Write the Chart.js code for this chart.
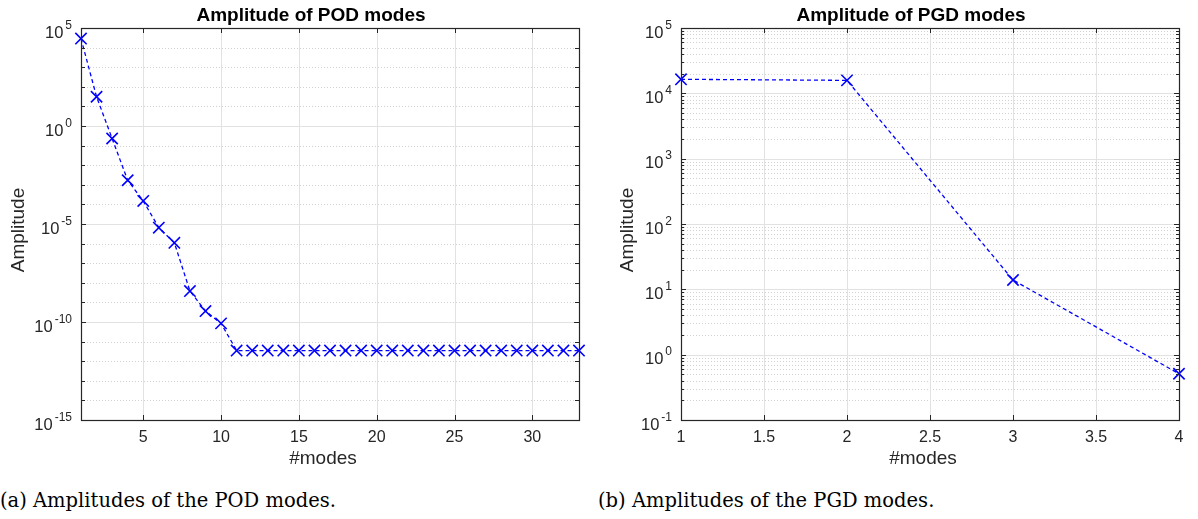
<!DOCTYPE html>
<html>
<head>
<meta charset="utf-8">
<title>Amplitudes of the POD and PGD modes</title>
<script src="https://cdn.jsdelivr.net/npm/chart.js@4"></script>
<style>
    html, body { margin: 0; padding: 0; background: #fff; }
    body { width: 1198px; height: 519px; position: relative; overflow: hidden; }
    canvas { position: absolute; top: 0; }
    #podChart { left: 0; }
    #pgdChart { left: 600px; }
    .caption {
        position: absolute;
        top: 489px;
        font-family: "DejaVu Serif", "Liberation Serif", serif;
        font-size: 19.5px;
        color: #000;
        white-space: nowrap;
    }
</style>
</head>
<body>
<canvas id="podChart" width="600" height="470"></canvas>
<canvas id="pgdChart" width="598" height="470"></canvas>
<div class="caption" style="left:0px">(a) Amplitudes of the POD modes.</div>
<div class="caption" style="left:598px">(b) Amplitudes of the PGD modes.</div>

<script>
// POD modes (left panel)
const podModes = [1, 2, 3, 4, 5, 6, 7, 8, 9, 10, 11, 12, 13, 14, 15, 16, 17,
    18, 19, 20, 21, 22, 23, 24, 25, 26, 27, 28, 29, 30, 31, 32, 33];
const podAmplitude = [2.9e4, 31, 0.23, 1.7e-3, 1.5e-4, 6.5e-6, 1.1e-6, 3.8e-9, 3.6e-10, 8.5e-11,
    3.5e-12, 3.5e-12, 3.5e-12, 3.5e-12, 3.5e-12, 3.5e-12, 3.5e-12, 3.5e-12, 3.5e-12, 3.5e-12,
    3.5e-12, 3.5e-12, 3.5e-12, 3.5e-12, 3.5e-12, 3.5e-12, 3.5e-12, 3.5e-12, 3.5e-12, 3.5e-12,
    3.5e-12, 3.5e-12, 3.5e-12];
const podXTicks = [5, 10, 15, 20, 25, 30];
const podYExponents = [-15, -10, -5, 0, 5];

// PGD modes (right panel)
const pgdModes = [1, 2, 3, 4];
const pgdAmplitude = [1.64e4, 1.58e4, 13.9, 0.51];
const pgdXTicks = [1, 1.5, 2, 2.5, 3, 3.5, 4];
const pgdYExponents = [-1, 0, 1, 2, 3, 4, 5];

const AXIS_COLOR = '#262626';
const FONT = '"Liberation Sans", Arial, Helvetica, sans-serif';

// MATLAB-like axes: grid, box, inward ticks, 10^n labels
function matlabAxes(cfg) {
    function hLine(ctx, x1, x2, y) {
        ctx.beginPath(); ctx.moveTo(x1, y); ctx.lineTo(x2, y); ctx.stroke();
    }
    function vLine(ctx, x, y1, y2) {
        ctx.beginPath(); ctx.moveTo(x, y1); ctx.lineTo(x, y2); ctx.stroke();
    }
    return {
        id: 'matlabAxes',
        beforeDatasetsDraw(chart) {
            const { ctx, chartArea: a, scales: { x, y } } = chart;
            ctx.save();
            ctx.lineWidth = 1;

            // minor grid (dotted)
            ctx.strokeStyle = '#d2d2d2';
            ctx.setLineDash([1, 2]);
            cfg.yMinor.forEach(v => {
                const py = Math.round(y.getPixelForValue(v)) + 0.5;
                hLine(ctx, a.left, a.right, py);
            });

            // major grid (solid)
            ctx.setLineDash([]);
            ctx.strokeStyle = '#e2e2e2';
            cfg.yExponents.forEach(e => {
                const py = Math.round(y.getPixelForValue(Math.pow(10, e))) + 0.5;
                hLine(ctx, a.left, a.right, py);
            });
            cfg.xTicks.forEach(v => {
                const px = Math.round(x.getPixelForValue(v)) + 0.5;
                vLine(ctx, px, a.top, a.bottom);
            });
            ctx.restore();
        },
        afterDraw(chart) {
            const { ctx, chartArea: a, scales: { x, y } } = chart;
            const cx = (a.left + a.right) / 2;
            ctx.save();

            // box
            ctx.strokeStyle = AXIS_COLOR;
            ctx.lineWidth = 1.2;
            ctx.strokeRect(Math.round(a.left) + 0.5, Math.round(a.top) + 0.5,
                Math.round(a.right - a.left), Math.round(a.bottom - a.top));

            // ticks
            ctx.lineWidth = 1;
            cfg.xTicks.forEach(v => {
                const px = Math.round(x.getPixelForValue(v)) + 0.5;
                vLine(ctx, px, a.bottom, a.bottom - 5);
                vLine(ctx, px, a.top, a.top + 5);
            });
            cfg.yExponents.forEach(e => {
                const py = Math.round(y.getPixelForValue(Math.pow(10, e))) + 0.5;
                hLine(ctx, a.left, a.left + 5, py);
                hLine(ctx, a.right, a.right - 5, py);
            });
            cfg.yMinor.forEach(v => {
                const py = Math.round(y.getPixelForValue(v)) + 0.5;
                hLine(ctx, a.left, a.left + cfg.minorTick, py);
                hLine(ctx, a.right, a.right - cfg.minorTick, py);
            });

            // x tick labels
            ctx.fillStyle = AXIS_COLOR;
            ctx.font = '16px ' + FONT;
            ctx.textAlign = 'center';
            ctx.textBaseline = 'alphabetic';
            cfg.xTicks.forEach(v => {
                ctx.fillText(String(v), x.getPixelForValue(v), a.bottom + 22);
            });

            // y tick labels as 10 with superscript exponent
            ctx.textAlign = 'left';
            cfg.yExponents.forEach(e => {
                const py = y.getPixelForValue(Math.pow(10, e));
                const exp = String(e);
                ctx.font = '12px ' + FONT;
                const wExp = ctx.measureText(exp).width;
                ctx.font = '16.5px ' + FONT;
                const wBase = ctx.measureText('10').width;
                const right = a.left - 9;
                ctx.fillText('10', right - wExp - 2 - wBase, py + 9.5);
                ctx.font = '12px ' + FONT;
                ctx.fillText(exp, right - wExp, py + 0.5);
            });

            // axis labels
            ctx.font = '19px ' + FONT;
            ctx.textAlign = 'center';
            ctx.fillText('#modes', cx - 7, a.bottom + 44);
            ctx.save();
            ctx.translate(cfg.yLabelX, (a.top + a.bottom) / 2 + 6);
            ctx.rotate(-Math.PI / 2);
            ctx.textBaseline = 'middle';
            ctx.fillText('Amplitude', 0, 0);
            ctx.restore();

            // title
            ctx.fillStyle = '#000';
            ctx.font = 'bold 19px ' + FONT;
            ctx.textAlign = 'center';
            ctx.fillText(cfg.title, cx - 19, 21);
            ctx.restore();
        }
    };
}

function minorDecades(exponents, perDecade) {
    // dotted grid values between the labelled decades
    const out = [];
    const lo = exponents[0], hi = exponents[exponents.length - 1];
    for (let e = lo; e < hi; e++) {
        if (perDecade) {
            for (let m = 2; m <= 9; m++) out.push(m * Math.pow(10, e));
        } else if (!exponents.includes(e)) {
            out.push(Math.pow(10, e));
        }
    }
    return out;
}

function makeChart(canvasId, xs, ys, xMin, xMax, exps, opts) {
    const ctx = document.getElementById(canvasId).getContext('2d');
    return new Chart(ctx, {
        type: 'line',
        data: {
            datasets: [{
                data: xs.map((v, i) => ({ x: v, y: ys[i] })),
                borderColor: '#0000ff',
                borderWidth: 1.3,
                borderDash: [4, 3],
                pointStyle: 'crossRot',
                pointRadius: 8,
                pointBorderColor: '#0000ff',
                pointBorderWidth: 1.6,
                pointHoverRadius: 8,
                tension: 0,
                fill: false,
                clip: false
            }]
        },
        options: {
            responsive: false,
            animation: false,
            events: [],
            layout: { padding: { left: 81, right: opts.padRight, top: 28, bottom: 50 } },
            plugins: {
                legend: { display: false },
                tooltip: { enabled: false },
                title: { display: false }
            },
            scales: {
                x: { type: 'linear', min: xMin, max: xMax, display: false },
                y: {
                    type: 'logarithmic',
                    min: Math.pow(10, exps[0]),
                    max: Math.pow(10, exps[exps.length - 1]),
                    display: false
                }
            }
        },
        plugins: [matlabAxes({
            title: opts.title,
            xTicks: opts.xTicks,
            yExponents: exps,
            yMinor: minorDecades(exps, opts.perDecade),
            minorTick: opts.minorTick,
            yLabelX: opts.yLabelX
        })]
    });
}

makeChart('podChart', podModes, podAmplitude, 1, 33, podYExponents, {
    title: 'Amplitude of POD modes',
    xTicks: podXTicks,
    perDecade: false,
    minorTick: 4,
    padRight: 21,
    yLabelX: 19
});

makeChart('pgdChart', pgdModes, pgdAmplitude, 1, 4, pgdYExponents, {
    title: 'Amplitude of PGD modes',
    xTicks: pgdXTicks,
    perDecade: true,
    minorTick: 3,
    padRight: 19,
    yLabelX: 28
});
</script>
</body>
</html>
